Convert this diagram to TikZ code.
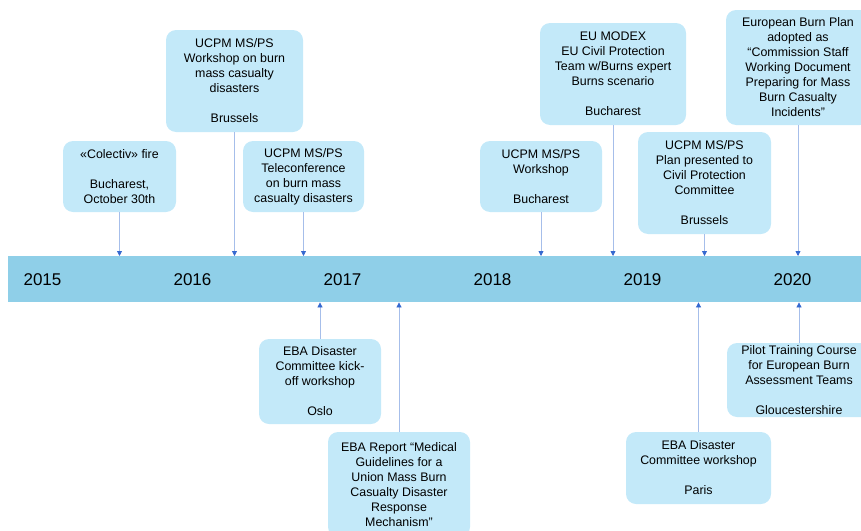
\documentclass[tikz,border=0pt]{standalone}
\usepackage{fontspec}
\setmainfont{Liberation Sans}
\usetikzlibrary{arrows.meta}

\definecolor{bandblue}{HTML}{8FCFE8}
\definecolor{boxblue}{HTML}{C3E9F9}
\definecolor{lineblue}{HTML}{A6BEEA}
\definecolor{tipblue}{HTML}{3568CF}

\begin{document}
\begin{tikzpicture}[x=1pt, y=-1pt,
        event/.style={fill=boxblue, rounded corners=10pt, inner sep=0pt, align=center,
            font=\fontsize{12.4}{15}\selectfont},
        year/.style={font=\fontsize{17}{20}\selectfont},
        link/.style={lineblue, line width=0.8pt, -{Triangle[length=5pt, width=5pt, color=tipblue]}}]

        \useasboundingbox (0, 0) rectangle (861, 530);

        % Zeitleiste
        \node[fill=bandblue, anchor=north west, inner sep=0pt, minimum width=870pt, minimum height=46pt] (band) at (8, 256) {};
        \foreach \yr [count=\i from 0] in {2015, 2016, 2017, 2018, 2019, 2020}
            \node[year] (y\yr) at (42.5 + 150*\i, 280) {\yr};

        % Ereignisse oben
        \node[event, minimum width=113pt, minimum height=71pt] (colectiv) at (119.5, 176.5)
            {«Colectiv» fire\\[15pt] Bucharest,\\ October 30th};
        \node[event, minimum width=137pt, minimum height=102pt] (wsbrussels) at (234.5, 81)
            {UCPM MS/PS\\ Workshop on burn\\ mass casualty\\ disasters\\[15pt] Brussels};
        \node[event, minimum width=121pt, minimum height=71pt] (telecon) at (303.5, 176.5)
            {UCPM MS/PS\\ Teleconference\\ on burn mass\\ casualty disasters};
        \node[event, minimum width=122pt, minimum height=71pt] (wsbucharest) at (541, 176.5)
            {UCPM MS/PS\\ Workshop\\[15pt] Bucharest};
        \node[event, minimum width=146pt, minimum height=102pt] (modex) at (613, 74)
            {EU MODEX\\ EU Civil Protection\\ Team w/Burns expert\\ Burns scenario\\[15pt] Bucharest};
        \node[event, minimum width=133pt, minimum height=102pt] (plan) at (704.5, 183)
            {UCPM MS/PS\\ Plan presented to\\ Civil Protection\\ Committee\\[15pt] Brussels};
        \node[event, minimum width=144pt, minimum height=115pt] (burnplan) at (798, 67.5)
            {European Burn Plan\\ adopted as\\ “Commission Staff\\ Working Document\\ Preparing for Mass\\ Burn Casualty\\ Incidents”};

        % Ereignisse unten
        \node[event, minimum width=122pt, minimum height=85pt] (kickoff) at (320, 381.5)
            {EBA Disaster\\ Committee kick-\\ off workshop\\[15pt] Oslo};
        \node[event, minimum width=142pt, minimum height=105pt] (report) at (399, 484.5)
            {EBA Report “Medical\\ Guidelines for a\\ Union Mass Burn\\ Casualty Disaster\\ Response\\ Mechanism”};
        \node[event, minimum width=145pt, minimum height=72pt] (paris) at (698.5, 468)
            {EBA Disaster\\ Committee workshop\\[15pt] Paris};
        \node[event, minimum width=144pt, minimum height=74pt] (pilot) at (799, 380)
            {Pilot Training Course\\ for European Burn\\ Assessment Teams\\[15pt] Gloucestershire};

        % Pfeile
        \foreach \ev in {colectiv, wsbrussels, telecon, wsbucharest, modex, plan, burnplan}
            \draw[link] (\ev.south) -- (\ev.south |- band.north);
        \foreach \ev in {kickoff, report, paris, pilot}
            \draw[link] (\ev.north) -- (\ev.north |- band.south);

    \end{tikzpicture}
\end{document}
